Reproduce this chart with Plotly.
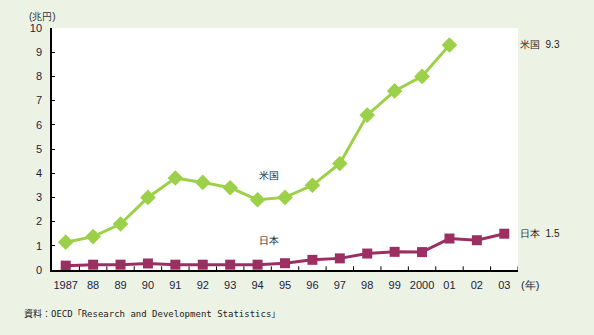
import plotly.graph_objects as go

years = ["1987", "88", "89", "90", "91", "92", "93", "94", "95", "96",
         "97", "98", "99", "2000", "01", "02", "03"]
usa = [1.15, 1.38, 1.9, 3.0, 3.8, 3.62, 3.4, 2.9, 3.0, 3.5,
       4.4, 6.4, 7.4, 8.0, 9.3]
japan = [0.18, 0.22, 0.22, 0.27, 0.22, 0.22, 0.22, 0.22, 0.28, 0.42,
         0.48, 0.68, 0.75, 0.74, 1.3, 1.23, 1.5]
yticks = list(range(0, 11))

GREEN = "#9CD048"
PURPLE = "#9B2F62"
BG = "#ECF2E4"
TXT = "#1d2340"
FONT = "Liberation Sans Narrow, Liberation Sans, Arial"

idx = list(range(len(years)))

fig = go.Figure()
fig.add_trace(go.Scatter(
    x=idx[:len(usa)], y=usa, mode="lines+markers",
    line=dict(color=GREEN, width=3),
    marker=dict(symbol="diamond", size=12, color=GREEN),
    cliponaxis=False, showlegend=False))
fig.add_trace(go.Scatter(
    x=idx, y=japan, mode="lines+markers",
    line=dict(color=PURPLE, width=3),
    marker=dict(symbol="square", size=10, color=PURPLE),
    cliponaxis=False, showlegend=False))

fig.update_layout(
    width=594, height=335,
    margin=dict(l=52, r=76, t=28, b=65),
    paper_bgcolor=BG, plot_bgcolor="white",
    font=dict(family=FONT, size=11, color=TXT),
    xaxis=dict(
        range=[-0.5, len(years) - 0.5], tickmode="array",
        tickvals=idx, ticktext=years, ticks="", showgrid=False,
        showline=True, linecolor="black", linewidth=1.5,
        zeroline=False, fixedrange=True, ticklabelstandoff=4,
        tickfont=dict(size=11)),
    yaxis=dict(
        range=[0, 10], tickmode="array", tickvals=yticks,
        ticks="inside", ticklen=3, tickcolor="black", showgrid=False,
        showline=True, linecolor="black", linewidth=1.5,
        zeroline=False, ticklabelstandoff=6, tickfont=dict(size=11)),
)

# tick marks on the category boundaries of the year axis
for b in range(len(years)):
    fig.add_shape(type="line", xref="x", yref="paper",
                  x0=b + 0.5, x1=b + 0.5, y0=0, y1=0.015,
                  line=dict(color="black", width=1))

anns = [
    dict(x=0, y=1, xref="paper", yref="paper", text="(兆円)",
         xanchor="center", yanchor="bottom", xshift=-10, yshift=4,
         font=dict(size=10, color="#333")),
    dict(x=len(years) - 0.5, y=0, xref="x", yref="y", text="(年)",
         xanchor="left", yanchor="top", xshift=1, yshift=-7,
         font=dict(size=11)),
    dict(x=7.4, y=3.9, xref="x", yref="y", text="米国",
         font=dict(size=10, color="#222")),
    dict(x=7.4, y=1.2, xref="x", yref="y", text="日本",
         font=dict(size=10, color="#222")),
    dict(x=len(years) - 0.5, y=usa[-1], xref="x", yref="y",
         text="米国  " + str(usa[-1]), xanchor="left", xshift=0,
         font=dict(size=10, color="#222")),
    dict(x=len(years) - 0.5, y=japan[-1], xref="x", yref="y",
         text="日本  " + str(japan[-1]), xanchor="left", xshift=0,
         font=dict(size=10, color="#222")),
    dict(xref="paper", yref="paper", x=-30 / 466, y=-(313 - 270) / 242,
         xanchor="left", yanchor="middle",
         text="資料：OECD「Research and Development Statistics」",
         font=dict(size=9, color="#222",
                   family="DejaVu Sans Mono, Noto Sans CJK JP")),
]
for a in anns:
    a["showarrow"] = False
fig.update_layout(annotations=anns)

fig.write_html("out.html")
